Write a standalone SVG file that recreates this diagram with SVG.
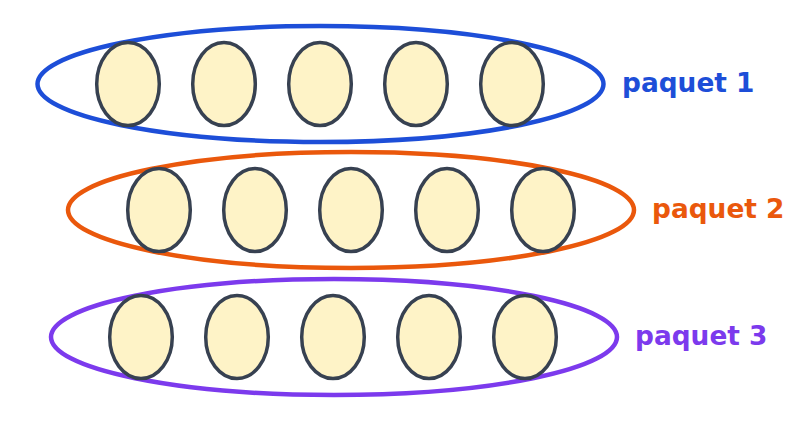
<svg xmlns="http://www.w3.org/2000/svg" width="801" height="422" viewBox="0 0 801 422">
<style>
.item{fill:#fef3c7;stroke:#374151;stroke-width:3.5}
.pk{fill:none;stroke-width:4.5}
.lbl{font-family:"DejaVu Sans",sans-serif;font-weight:bold;font-size:26.4px}
</style>
<rect width="801" height="422" fill="#ffffff"/>
<g id="paquet1">
<ellipse class="pk" cx="320.5" cy="84" rx="283" ry="58" stroke="#1d4ed8"/>
<ellipse class="item" cx="128" cy="84" rx="31.3" ry="41.5"/>
<ellipse class="item" cx="224" cy="84" rx="31.3" ry="41.5"/>
<ellipse class="item" cx="320" cy="84" rx="31.3" ry="41.5"/>
<ellipse class="item" cx="416" cy="84" rx="31.3" ry="41.5"/>
<ellipse class="item" cx="512" cy="84" rx="31.3" ry="41.5"/>
<text class="lbl" x="622" y="92" fill="#1d4ed8">paquet 1</text>
</g>
<g id="paquet2">
<ellipse class="pk" cx="351" cy="210" rx="283" ry="58" stroke="#ea580c"/>
<ellipse class="item" cx="159" cy="210" rx="31.3" ry="41.5"/>
<ellipse class="item" cx="255" cy="210" rx="31.3" ry="41.5"/>
<ellipse class="item" cx="351" cy="210" rx="31.3" ry="41.5"/>
<ellipse class="item" cx="447" cy="210" rx="31.3" ry="41.5"/>
<ellipse class="item" cx="543" cy="210" rx="31.3" ry="41.5"/>
<text class="lbl" x="652" y="218" fill="#ea580c">paquet 2</text>
</g>
<g id="paquet3">
<ellipse class="pk" cx="334" cy="337" rx="283" ry="58" stroke="#7c3aed"/>
<ellipse class="item" cx="141" cy="337" rx="31.3" ry="41.5"/>
<ellipse class="item" cx="237" cy="337" rx="31.3" ry="41.5"/>
<ellipse class="item" cx="333" cy="337" rx="31.3" ry="41.5"/>
<ellipse class="item" cx="429" cy="337" rx="31.3" ry="41.5"/>
<ellipse class="item" cx="525" cy="337" rx="31.3" ry="41.5"/>
<text class="lbl" x="635" y="345" fill="#7c3aed">paquet 3</text>
</g>
<g id="connectors"></g>
</svg>
